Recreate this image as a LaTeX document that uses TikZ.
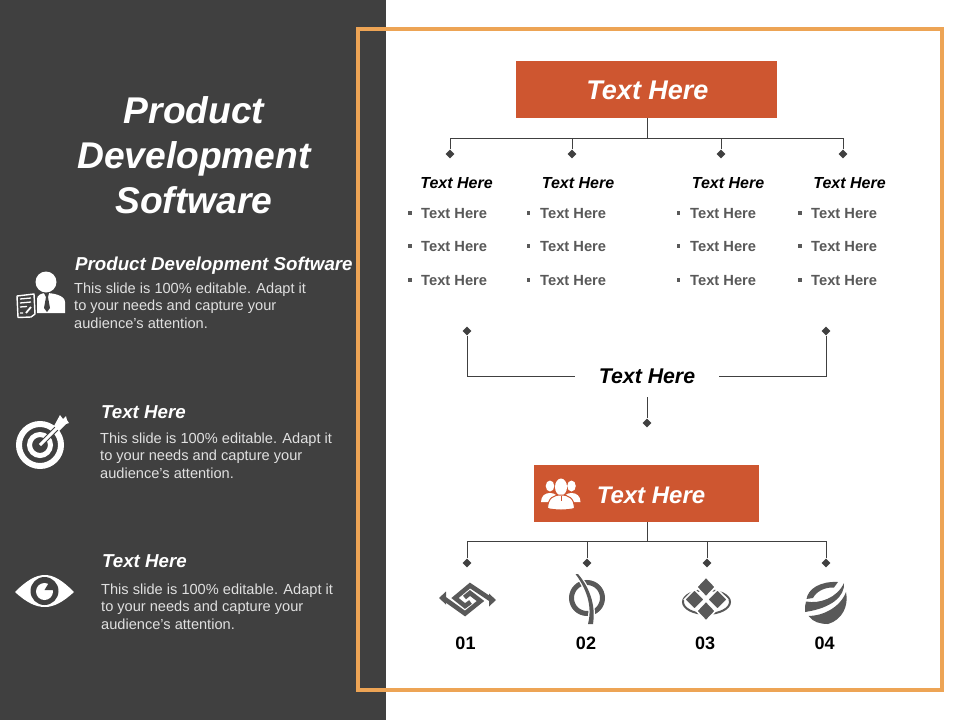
\documentclass[tikz,border=0pt]{standalone}
\usepackage{fontspec}
\setmainfont{Liberation Sans}
\usetikzlibrary{shapes.geometric}
\definecolor{panel}{HTML}{404040}
\definecolor{frameor}{HTML}{EDA455}
\definecolor{rust}{HTML}{CE5630}
\definecolor{icongray}{HTML}{595959}
\definecolor{listgray}{HTML}{595959}
\tikzset{
  x=1pt,y=-1pt,
  conn/.style={draw=panel,line width=1pt},
  dmd/.style={diamond,fill=panel,inner sep=0pt,minimum width=9pt,minimum height=9pt},
  box/.style={fill=rust,inner sep=0pt,text=white},
  title/.style={text=white,align=center,font=\fontsize{37.2}{45}\selectfont\bfseries\itshape},
  lefthead/.style={anchor=west,inner sep=0pt,text=white,font=\fontsize{18.7}{22}\selectfont\bfseries\itshape},
  leftbody/.style={anchor=north west,inner sep=0pt,align=left,text=white!88!black,font=\fontsize{14.6}{17.6}\selectfont},
  colhead/.style={inner sep=0pt,text=black,font=\fontsize{16}{19}\selectfont\bfseries\itshape},
  li/.style={anchor=west,inner sep=0pt,text=listgray,font=\fontsize{14.7}{18}\selectfont\bfseries},
  bul/.style={fill=listgray,inner sep=0pt,minimum size=3.5pt},
  num/.style={inner sep=0pt,text=black,font=\fontsize{18}{22}\selectfont\bfseries},
  ico/.style={fill=icongray,draw=none},
}
\begin{document}
\begin{tikzpicture}
\useasboundingbox (0,0) rectangle (960,720);
\fill[white] (0,0) rectangle (960,720);
\fill[panel] (0,0) rectangle (386,720);
\draw[frameor,line width=4pt] (358,29) rectangle (942,690);

% left panel text
\node[title] (ttl) at (194,155.5) {Product\\Development\\Software};
\node[lefthead] (h1) at (75,265.5) {Product Development Software};
\node[leftbody] (b1) at (74,282.5) {This slide is 100\% editable.  Adapt it\\to your needs and capture your\\audience's attention.};
\node[lefthead] (h2) at (101,412.5) {Text Here};
\node[leftbody] (b2) at (100,432.5) {This slide is 100\% editable.  Adapt it\\to your needs and capture your\\audience's attention.};
\node[lefthead] (h3) at (102,561.5) {Text Here};
\node[leftbody] (b3) at (101,583.5) {This slide is 100\% editable.  Adapt it\\to your needs and capture your\\audience's attention.};

% person icon
\fill[white] (46,282) circle (10.5);
\fill[white] (37,313) -- (37,299) .. controls (37,295) and (42,293) .. (46,293) .. controls (52,293) and (65,295) .. (65,302) -- (65,313) -- cycle;
\fill[panel] (44,293) -- (49,293) -- (48,297) -- (50,308) -- (47,312) -- (44,308) -- (46,297) -- cycle;
\filldraw[fill=panel,draw=white,line width=1.4pt,line join=round] (17,296) -- (34,294) -- (35,314) -- (31,317) -- (18,317.5) -- cycle;
\draw[white,line width=1.3pt] (20,299) -- (31,298) (20,303) -- (31,302) (20,307) -- (27,306.5) (20,313) -- (23,313);
\draw[white,line width=1.8pt] (26,313) -- (31,307);

% target icon
\draw[white,line width=6pt] (40,445) circle (21);
\draw[white,line width=5pt] (40,445) circle (10.5);
\draw[panel,line width=5pt] (40,445) -- (59,426);
\draw[white,line width=3pt] (40,445) -- (58,427);
\fill[white] (54,426) -- (60,415) -- (63,419) -- (66,416) -- (67,420) -- (69,423) -- (66,424) -- (59,431) -- cycle;

% eye icon
\fill[white] (15,592) .. controls (27,580) and (36,575) .. (45,575) .. controls (54,575) and (63,581) .. (74,592) .. controls (63,602) and (54,607) .. (45,607) .. controls (36,607) and (27,603) .. (15,592) -- cycle;
\fill[panel] (44.5,591) circle (14);
\fill[white] (44.5,591.5) circle (8.5);
\fill[panel] (44.5,590) -- (50,581) -- (55,590) -- cycle;

% top tree
\node[box,minimum width=261pt,minimum height=57pt] (topbox) at (646.5,89.5) {};
\node[inner sep=0pt,text=white,font=\fontsize{27}{32}\selectfont\bfseries\itshape] (toptxt) at (647.5,90.5) {Text Here};
\coordinate (tj) at (647,138);
\node[dmd] (t1) at (450,154) {};
\node[dmd] (t2) at (572,154) {};
\node[dmd] (t3) at (721,154) {};
\node[dmd] (t4) at (843,154) {};
\draw[conn] (topbox.south -| tj) -- (tj);
\draw[conn] (t1) |- (tj);
\draw[conn] (t2) |- (tj);
\draw[conn] (t3) |- (tj);
\draw[conn] (t4) |- (tj);

\node[colhead] (c1) at (456.5,183.5) {Text Here};
\node[colhead] (c2) at (578,183.5) {Text Here};
\node[colhead] (c3) at (728,183.5) {Text Here};
\node[colhead] (c4) at (849.5,183.5) {Text Here};

\foreach \n/\bx/\tx in {a/410/421,b/528.5/540,c/678.5/690,d/800/811}{
  \foreach \m/\y in {1/213,2/246,3/280}{
    \node[bul] (bu\n\m) at (\bx,\y) {};
    \node[li] (li\n\m) at (\tx,\y+0.5) {Text Here};
  }
}

% middle
\node[inner sep=0pt,text=black,font=\fontsize{21.3}{25}\selectfont\bfseries\itshape,minimum width=144pt,minimum height=20pt] (mid) at (647,376.5) {Text Here};
\node[dmd] (m1) at (467,331) {};
\node[dmd] (m2) at (826,331) {};
\node[dmd] (m3) at (647,423) {};
\coordinate (m3top) at (647,397);
\draw[conn] (m1) |- (mid.west);
\draw[conn] (m2) |- (mid.east);
\draw[conn] (m3top) -- (m3);

% lower tree
\node[box,minimum width=225pt,minimum height=57pt] (lowbox) at (646.5,493.5) {};
\node[inner sep=0pt,text=white,font=\fontsize{24}{28}\selectfont\bfseries\itshape] (lowtxt) at (651,495) {Text Here};
\coordinate (lj) at (647,541);
\node[dmd] (l1) at (467,563) {};
\node[dmd] (l2) at (587,563) {};
\node[dmd] (l3) at (707,563) {};
\node[dmd] (l4) at (826,563) {};
\draw[conn] (lowbox.south -| lj) -- (lj);
\draw[conn] (l1) |- (lj);
\draw[conn] (l2) |- (lj);
\draw[conn] (l3) |- (lj);
\draw[conn] (l4) |- (lj);

% group icon
\foreach \cx in {550,571.5}{
  \fill[white] (\cx,486) ellipse (4.3 and 5.5);
  \fill[white] (\cx-9,502) .. controls (\cx-9,496) and (\cx-5,493) .. (\cx,493) .. controls (\cx+5,493) and (\cx+9,496) .. (\cx+9,502) -- cycle;
}
\fill[white] (561,487) ellipse (6 and 8.5);
\filldraw[fill=white,draw=rust,line width=1pt] (547.5,508.5) .. controls (548,498) and (553,495) .. (561,495) .. controls (569,495) and (574,498) .. (574.5,508.5) .. controls (566,510.5) and (556,510.5) .. (547.5,508.5) -- cycle;
\draw[rust,line width=1pt] (561,496) -- (561,501);

% numbered labels
\node[num] (n1) at (465.5,643) {01};
\node[num] (n2) at (586,643) {02};
\node[num] (n3) at (705,643) {03};
\node[num] (n4) at (824.5,643) {04};

% icon 1: two interlocked spiral arrows
\begin{scope}[line join=miter]
\draw[icongray,line width=4.6pt] (444,598.5) -- (465,613.5) -- (480.5,601) -- (470,593) -- (464.5,597.5);
\draw[icongray,line width=4.6pt] (491,599.5) -- (470,585.5) -- (455,598) -- (465,606) -- (470.5,602);
\end{scope}
\fill[ico] (439,598) -- (446,591.5) -- (446,604.5) -- cycle;
\fill[ico] (496,600) -- (489,593.5) -- (489,606.5) -- cycle;

% icon 2: ring with blade
\draw[icongray,line width=5pt] (587,598) circle (15.5);
\filldraw[fill=icongray,draw=white,line width=2.5pt] (575.5,574) .. controls (585,587) and (593,604) .. (588,624) -- (593,624) .. controls (596,604) and (589,587) .. (578,574) -- cycle;
\fill[ico] (575.5,574) .. controls (585,587) and (593,604) .. (588,624) -- (593,624) .. controls (596,604) and (589,587) .. (578,574) -- cycle;

% icon 3: diamonds over ring
\draw[icongray,line width=2pt] (706.5,602) ellipse (23.5 and 12);
\tikzset{tile/.style={fill=icongray,draw=white,line width=1.6pt}}
\filldraw[tile] (706,577) -- (715.5,587) -- (706,597) -- (696.5,587) -- cycle;
\filldraw[tile] (706,601) -- (715.5,611) -- (706,621) -- (696.5,611) -- cycle;
\filldraw[tile] (694.5,589.5) -- (704.5,599.5) -- (694.5,609.5) -- (684.5,599.5) -- cycle;
\filldraw[tile] (717.5,589.5) -- (727.5,599.5) -- (717.5,609.5) -- (707.5,599.5) -- cycle;

% icon 4: sphere with swooshes
\fill[ico] (806.5,599) .. controls (808,589) and (820,581) .. (838,582) -- (834,587.5) .. controls (824,587) and (816,592) .. (813,598) -- cycle;
\fill[ico] (805,612) .. controls (805,607) and (805,604) .. (806,601.5) .. controls (820,604) and (837,598) .. (844,583) .. controls (845,596) and (832,608) .. (805,612) -- cycle;
\fill[ico] (808.5,616) .. controls (822,616) and (840,608) .. (846,592) .. controls (849,606) and (842,620) .. (828,624) .. controls (820,624) and (813,622) .. (808.5,616) -- cycle;
\end{tikzpicture}
\end{document}
